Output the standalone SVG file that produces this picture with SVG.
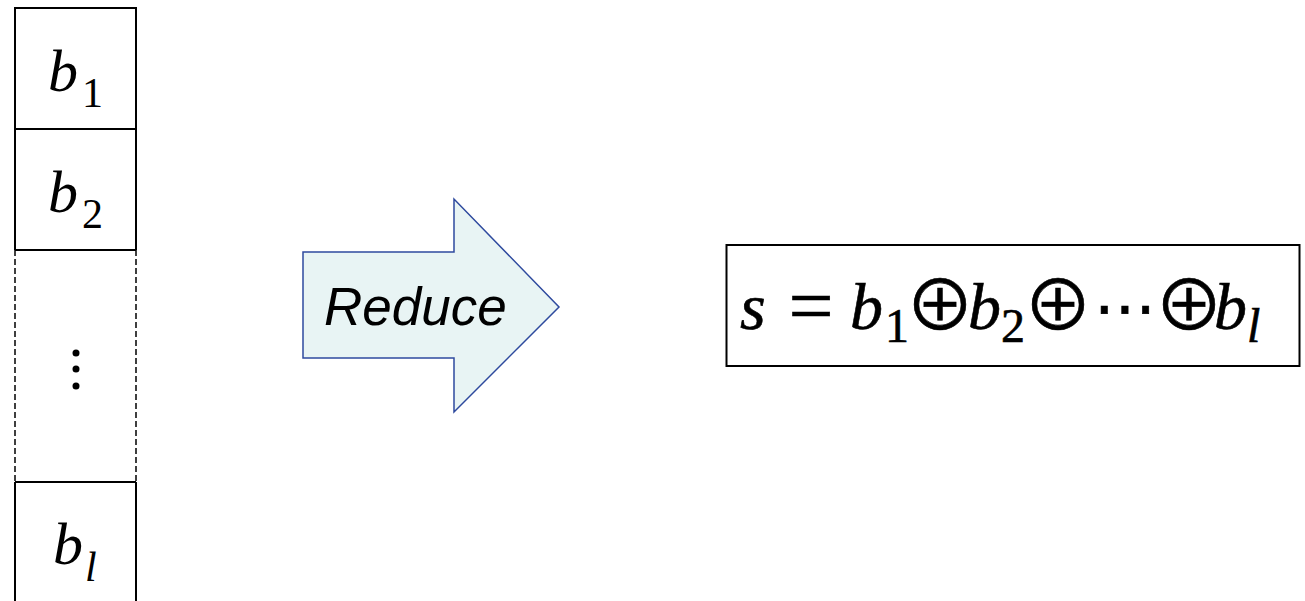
<svg xmlns="http://www.w3.org/2000/svg" width="1305" height="601" viewBox="0 0 1305 601">
<style>
.ln{stroke:#000;stroke-width:2;fill:none}
.dash{stroke:#000;stroke-width:1.5;stroke-dasharray:6 3;fill:none}
.var{font-family:"Liberation Serif",serif;font-style:italic;fill:#000}
.num{font-family:"Liberation Serif",serif;fill:#000}
.op{font-family:"DejaVu Serif","DejaVu Sans",serif;fill:#000}
.oplus{font-family:"Noto Sans CJK SC","DejaVu Sans",sans-serif;fill:#000;font-size:70px;stroke:#000;stroke-width:0.8}
.f text{stroke:#000;stroke-width:0.6}
</style>
<rect width="1305" height="601" fill="#fff"/>
<g id="column">
<line class="ln" x1="14" y1="8" x2="137" y2="8"/>
<line class="ln" x1="15" y1="8" x2="15" y2="250"/>
<line class="ln" x1="136" y1="8" x2="136" y2="250"/>
<line class="dash" x1="15" y1="250" x2="15" y2="482"/>
<line class="dash" x1="136" y1="250" x2="136" y2="482"/>
<line class="ln" x1="15" y1="482" x2="15" y2="601"/>
<line class="ln" x1="136" y1="482" x2="136" y2="601"/>
</g>
<g id="cell-b1">
<line class="ln" x1="15" y1="129" x2="136" y2="129"/>
<text class="var" x="48" y="91" font-size="60">b</text>
<text class="num" x="82" y="107" font-size="42">1</text>
</g>
<g id="cell-b2">
<line class="ln" x1="15" y1="250" x2="136" y2="250"/>
<text class="var" x="48" y="212" font-size="60">b</text>
<text class="num" x="82" y="228" font-size="42">2</text>
</g>
<g id="cell-dots">
<circle cx="76" cy="353" r="3.5"/>
<circle cx="76" cy="369" r="3.5"/>
<circle cx="76" cy="386" r="3.5"/>
</g>
<g id="cell-bl">
<line class="ln" x1="15" y1="482" x2="136" y2="482"/>
<text class="var" x="53" y="564" font-size="60">b</text>
<text class="var" x="85" y="581" font-size="42">l</text>
</g>
<g id="connectors">
<g id="reduce-arrow">
<polygon points="303,252 454,252 454,199 559,307 454,412 454,358 303,358" fill="#E8F4F4" stroke="#2E4A9E" stroke-width="1.5"/>
<text x="324" y="325" font-family="Liberation Sans, Arial, sans-serif" font-style="italic" font-size="53" fill="#000">Reduce</text>
</g>
</g>
<g id="result" class="f">
<rect x="726.5" y="245" width="573" height="121" fill="#fff" stroke="#000" stroke-width="2"/>
<text class="var" x="740" y="329" font-size="66">s</text>
<text class="num" x="811" y="333" font-size="80" text-anchor="middle">=</text>
<text class="var" x="850" y="329" font-size="66">b</text>
<text class="num" x="885" y="342" font-size="48">1</text>
<text class="oplus" x="940" y="331" text-anchor="middle">⊕</text>
<text class="var" x="968" y="329" font-size="66">b</text>
<text class="num" x="1001" y="342" font-size="48">2</text>
<text class="oplus" x="1058" y="331" text-anchor="middle">⊕</text>
<text class="op" x="1125" y="329" font-size="62" text-anchor="middle">⋯</text>
<text class="oplus" x="1189" y="331" text-anchor="middle">⊕</text>
<text class="var" x="1214" y="329" font-size="66">b</text>
<text class="var" x="1247" y="342" font-size="48">l</text>
</g>
</svg>
